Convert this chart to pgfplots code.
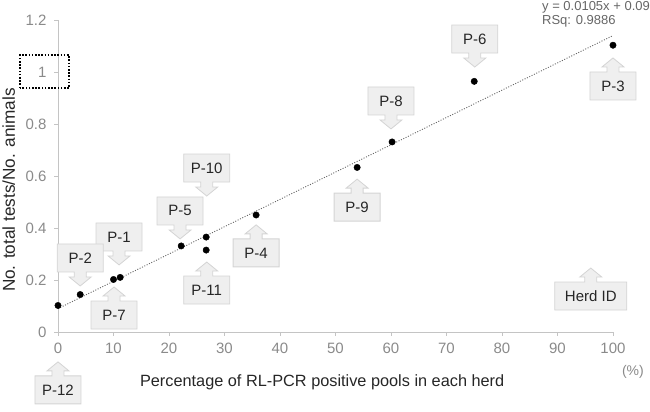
\documentclass[border=0pt]{standalone}
\usepackage{pgfplots}
\pgfplotsset{compat=1.18}
\usepackage{fontspec}
\setmainfont{Liberation Sans}
\definecolor{cofill}{HTML}{EFEFEF}
\definecolor{coedge}{HTML}{D4D4D4}
\definecolor{axgray}{HTML}{C4C4C4}
\definecolor{tickgray}{HTML}{8A8A8A}
\definecolor{txt}{HTML}{262626}
\definecolor{eqgray}{HTML}{666666}
\tikzset{co/.style={fill=cofill, draw=coedge, line width=0.8pt, line join=miter},
  cot/.style={font=\fontsize{15}{17}\selectfont, text=txt, inner sep=0pt}}
% down callout: #1 x, #2 y (tip), #3 label, #4 half box width minus 6, #5 box width
\newcommand{\cdown}[5]{%
  \draw[co] (axis cs:#1,#2) -- ++(11pt,9pt) -- ++(-5pt,0pt) -- ++(0pt,5pt) -- ++(#4pt,0pt) -- ++(0pt,28pt) -- ++(-#5pt,0pt) -- ++(0pt,-28pt) -- ++(#4pt,0pt) -- ++(0pt,-5pt) -- ++(-5pt,0pt) -- cycle;
  \node[cot] at ([yshift=28pt]axis cs:#1,#2) {#3};}
\newcommand{\cupw}[5]{%
  \draw[co] (axis cs:#1,#2) -- ++(11pt,-9pt) -- ++(-5pt,0pt) -- ++(0pt,-5pt) -- ++(#4pt,0pt) -- ++(0pt,-28pt) -- ++(-#5pt,0pt) -- ++(0pt,28pt) -- ++(#4pt,0pt) -- ++(0pt,5pt) -- ++(-5pt,0pt) -- cycle;
  \node[cot] at ([yshift=-28pt]axis cs:#1,#2) {#3};}
\begin{document}
\begin{tikzpicture}
\begin{axis}[
  scale only axis, width=555pt, height=312pt,
  xmin=0, xmax=100, ymin=0, ymax=1.2,
  clip=false,
  axis x line*=bottom, axis y line*=left,
  axis line style={axgray, line width=0.8pt, -},
  xtick={0,10,...,100}, ytick={0,0.2,0.4,0.6,0.8,1,1.2},
  tick align=outside, major tick length=4pt,
  tick style={axgray, line width=0.8pt},
  /pgf/number format/assume math mode=true,
  tick label style={font=\fontsize{15}{17}\selectfont, text=tickgray},
  xticklabel style={yshift=-4pt},
  yticklabel style={xshift=-4pt},
  xlabel={Percentage of RL-PCR positive pools in each herd},
  ylabel={No. total tests/No. animals},
  xlabel style={font=\fontsize{16.3}{18}\selectfont, text=txt, at={(rel axis cs:0.476,-0.160)}, anchor=center},
  ylabel style={font=\fontsize{17.2}{19}\selectfont, text=txt, at={(rel axis cs:-0.089,0.455)}, anchor=center},
]
\coordinate (bl) at (rel axis cs:-0.1045,-0.2564);
\coordinate (tr) at (rel axis cs:1.0667,1.0641);
% trend line
\addplot[eqgray, line width=0.9pt, dash pattern=on 1pt off 1.6pt] coordinates {(0,0.09) (100,1.14)};
% callouts
\cdown{75.1}{1.019}{P-6}{17}{46}
\cdown{60.0}{0.781}{P-8}{17}{46}
\cdown{26.8}{0.523}{P-10}{17}{46}
\cdown{22.0}{0.358}{P-5}{17}{46}
\cdown{11.0}{0.258}{P-1}{17}{46}
\cdown{4.0}{0.177}{P-2}{17}{46}
\cupw{100}{1.054}{P-3}{17}{46}
\cupw{53.9}{0.588}{P-9}{17}{46}
\cupw{35.7}{0.412}{P-4}{17}{46}
\cupw{26.8}{0.269}{P-11}{17}{46}
\cupw{10.1}{0.173}{P-7}{17}{46}
\cupw{0}{-0.115}{P-12}{17}{46}
\cupw{96.0}{0.246}{Herd ID}{30}{72}
% points
\addplot[only marks, mark=*, mark size=3.2pt, black] coordinates {
(0,0.102) (4.0,0.144) (10.0,0.202) (11.2,0.21) (22.2,0.331) (26.7,0.365)
(26.7,0.315) (35.7,0.45) (53.9,0.633) (60.2,0.731) (75.0,0.964) (100,1.103)};
% equation
\node[anchor=west, font=\fontsize{13}{15}\selectfont, text=eqgray, inner sep=0pt] at (axis cs:87.2,1.248) {y = 0.0105x + 0.09};
\node[anchor=west, font=\fontsize{13}{15}\selectfont, text=eqgray, inner sep=0pt] at (axis cs:87.2,1.196) {RSq: 0.9886};
\node[font=\fontsize{14}{16}\selectfont, text=tickgray, inner sep=0pt] at (axis cs:103.6,-0.154) {(\%)};
\draw[black, line width=2.2pt, dash pattern=on 1.6pt off 1.6pt] (axis cs:-6.85,0.938) rectangle (axis cs:1.98,1.065);
\end{axis}
\pgfresetboundingbox
\path (bl) rectangle (tr);
\end{tikzpicture}
\end{document}
